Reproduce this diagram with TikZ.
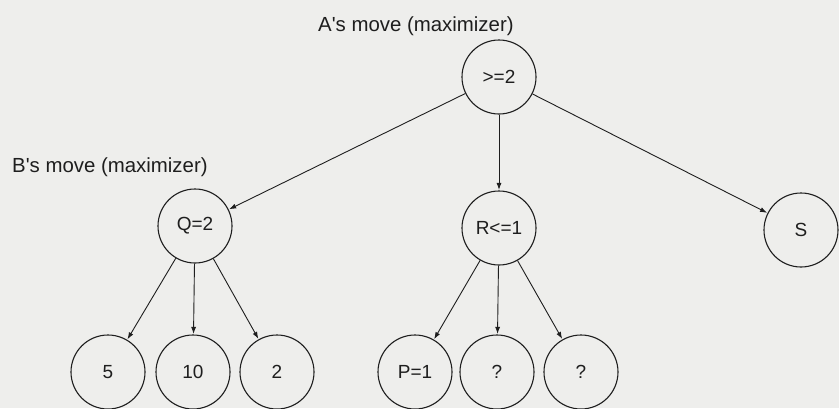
\documentclass[tikz,border=0pt]{standalone}
\usepackage{fontspec}
\setmainfont{Liberation Sans}[Mapping=]
\usetikzlibrary{arrows.meta}
\definecolor{paper}{RGB}{238,238,236}
\definecolor{ink}{RGB}{30,30,30}
\tikzset{
  state/.style={circle, draw=ink, line width=1.1pt, minimum size=74pt, inner sep=0pt,
                text=ink, font=\fontsize{19}{21}\selectfont},
  edge/.style={draw=ink, line width=0.9pt, -{Latex[length=7pt,width=5pt]}, shorten >=0.5pt},
  lbl/.style={anchor=west, inner sep=0pt, text=ink, font=\fontsize{20.4}{22}\selectfont}
}
\begin{document}
\begin{tikzpicture}[x=1pt,y=-1pt]
  \path[use as bounding box, fill=paper] (0,0) rectangle (839,408);
  \begin{scope}
  \clip (0,0) rectangle (839,408);
  \node[lbl] (la) at (318,26) {A\textquotesingle s move (maximizer)};
  \node[lbl] (lb) at (12,167) {B\textquotesingle s move (maximizer)};

  \node[state] (root) at (499,77) {>=2};
  \node[state] (q) at (195,226) {Q=2};
  \node[state] (r) at (499,228) {R<=1};
  \node[state] (s) at (801,230) {S};

  \node[state] (l5) at (108,372) {5};
  \node[state] (l10) at (193,372) {10};
  \node[state] (l2) at (277,372) {2};
  \node[state] (p) at (415,372) {P=1};
  \node[state] (u1) at (497,372) {?};
  \node[state] (u2) at (581,372) {?};

  \draw[edge] (root) -- (q);
  \draw[edge] (root) -- (r);
  \draw[edge] (root) -- (s);
  \draw[edge] (q) -- (l5);
  \draw[edge] (q) -- (l10);
  \draw[edge] (q) -- (l2);
  \draw[edge] (r) -- (p);
  \draw[edge] (r) -- (u1);
  \draw[edge] (r) -- (u2);
  \end{scope}
\end{tikzpicture}
\end{document}
